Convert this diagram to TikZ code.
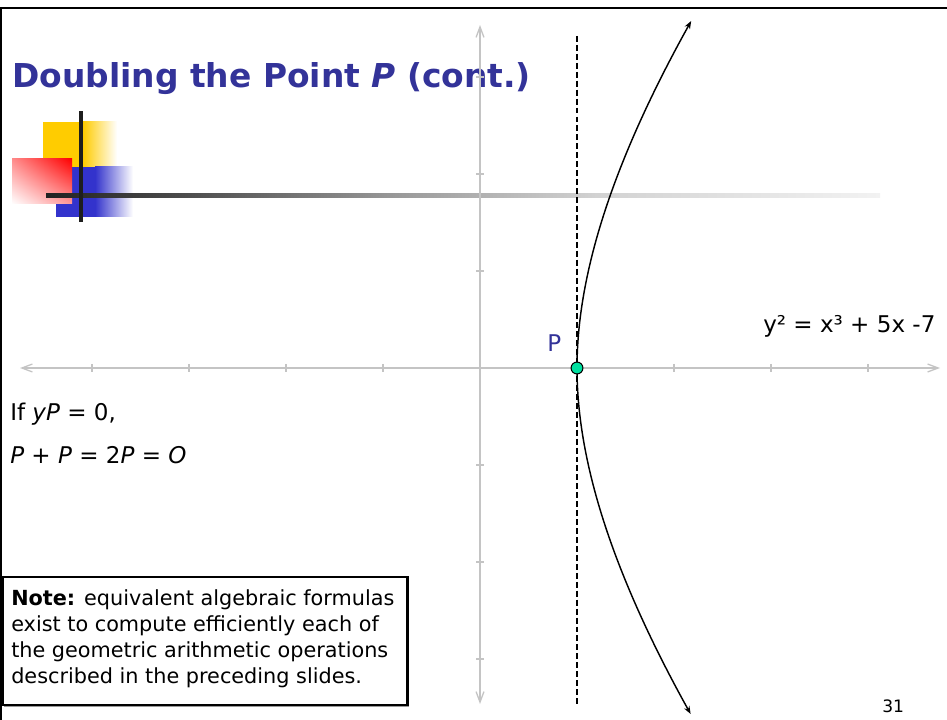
\documentclass[tikz,border=0pt]{standalone}
\usepackage{fontspec}
\setmainfont{DejaVu Sans}
\usetikzlibrary{arrows.meta,shadings}
\definecolor{titleblue}{HTML}{333399}
\definecolor{decoyellow}{HTML}{FFCC00}
\definecolor{decoblue}{HTML}{3333CC}
\definecolor{decored}{HTML}{FF0000}
\definecolor{axisgray}{HTML}{C4C4C4}
\definecolor{pointgreen}{HTML}{00E0A0}
\definecolor{bardark}{HTML}{1E1E1E}
\definecolor{barA}{HTML}{222222}
\definecolor{barB}{HTML}{505050}
\definecolor{barC}{HTML}{999999}
\definecolor{barD}{HTML}{D2D2D2}
\definecolor{barE}{HTML}{F2F2F2}
\pgfdeclarehorizontalshading{barshade}{100bp}{color(0bp)=(barA); color(25bp)=(barA); color(34bp)=(barB); color(46bp)=(barC); color(58bp)=(barD); color(75bp)=(barE); color(100bp)=(barE)}
\begin{document}
\begin{tikzpicture}[x=0.76pt,y=-0.76pt,
  frameline/.style={line width=1.9pt, black},
  axisline/.style={line width=1.1pt, axisgray, {Straight Barb[length=8pt,width=6pt,line width=1pt]}-{Straight Barb[length=8pt,width=6pt,line width=1pt]}},
  tickline/.style={line width=0.8pt, axisgray},
  dashline/.style={line width=0.8pt, black, dash pattern=on 4.5pt off 2.3pt},
  curveline/.style={line width=1.1pt, black, {Stealth[length=6pt,width=4.5pt]}-{Stealth[length=6pt,width=4.5pt]}},
  ptdot/.style={circle, draw=black, line width=0.8pt, fill=pointgreen, minimum size=9pt, inner sep=0pt},
  titletext/.style={font=\fontsize{25}{30}\selectfont\bfseries, text=titleblue, inner sep=0pt},
  bodytext/.style={font=\fontsize{17.5}{21}\selectfont, text=black, inner sep=0pt},
  labeltext/.style={font=\fontsize{17.5}{21}\selectfont, text=titleblue, inner sep=0pt},
  notetext/.style={font=\fontsize{15.8}{19.8}\selectfont, align=left, inner sep=0pt},
  notebox/.style={draw=black, line width=1.9pt, fill=white, inner sep=0pt},
  numtext/.style={font=\fontsize{13}{16}\selectfont, inner sep=0pt}
]
\useasboundingbox (0,0) rectangle (947,720);
% slide decoration
\fill[decoyellow] (43,122) rectangle (83,167);
\shade[left color=decoyellow, right color=white] (83,122) rectangle (117,167);
\fill[decoblue] (56,167) rectangle (95,217);
\shade[left color=decoblue, right color=white] (95,167) rectangle (133,217);
\shade[upper right=decored, lower left=white, upper left=decored!45!white, lower right=decored!40!white] (12,159) rectangle (72,204);
\shade[shading=barshade] (46,194) rectangle (880,198);
\fill[bardark] (79,111) rectangle (83,222);
% frame
\draw[frameline] (0,8) -- (947,8);
\draw[frameline] (1.2,8) -- (1.2,720);
% title
\node[titletext, anchor=base west] (title) at (12,88) {Doubling the Point \textit{P} (cont.)};
% axes
\coordinate (xl) at (20,368);
\coordinate (xr) at (940,368);
\coordinate (yt) at (480,25);
\coordinate (yb) at (480,704);
\draw[axisline] (xl) -- (xr);
\draw[axisline] (yb) -- (yt);
\foreach \t in {92,189,286,383,577,674,771,868} \draw[tickline] (\t,364) -- (\t,372);
\foreach \t in {77,174,271,465,562,659} \draw[tickline] (476,\t) -- (484,\t);
% dashed vertical line through P
\coordinate (dt) at (577,36);
\coordinate (db) at (577,706);
\draw[dashline] (dt) -- (db);
% curve
\draw[curveline] plot[domain=-346:347, samples=140, smooth, variable=\h] ({577+(0.036742*\h)*(0.036742*\h)/(1+0.001225*abs(\h))}, {368-\h});
% point P
\node[ptdot] (P) at (577,368) {};
\node[labeltext, anchor=base west] (Plabel) at (547,352) {P};
% equation
\node[bodytext, anchor=base west] (eq) at (763,332) {y² = x³ + 5x -7};
% statements
\node[bodytext, anchor=base west] (cond) at (10,420) {If \textit{yP} = 0,};
\node[bodytext, anchor=base west] (res) at (10,463) {\textit{P} + \textit{P} = 2\textit{P} = \textit{O}};
% note box
\fill[black!40] (4,578) rectangle (408.5,706.5);
\node[notebox, anchor=north west, minimum width=404.5*0.76pt, minimum height=128*0.76pt] (note) at (1.5,575.5) {};
\node[notetext, anchor=west] (notetxt) at (11,639) {\textbf{Note:} equivalent algebraic formulas\\exist to compute efficiently each of\\the geometric arithmetic operations\\described in the preceding slides.};
% page number
\node[numtext, anchor=base west] (num) at (882,712) {31};
\end{tikzpicture}
\end{document}
